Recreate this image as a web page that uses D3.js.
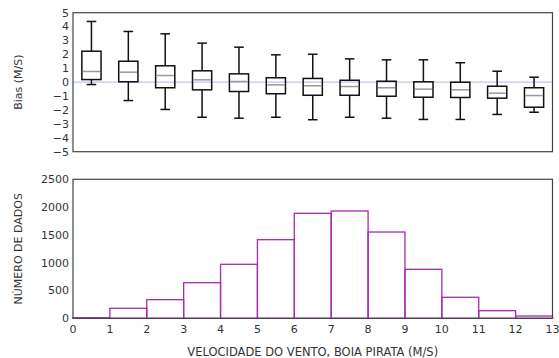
<!DOCTYPE html>
<html>
<head>
<meta charset="utf-8">
<script src="https://cdn.jsdelivr.net/npm/d3@7"></script>
<style>
  body { margin: 0; background: #fff; }
  text { font-family: "DejaVu Sans", sans-serif; fill: #333; }
</style>
</head>
<body>
<svg id="chart" width="559" height="358"></svg>
<script>
// bins of wind speed (m/s), box at each bin centre
const binStarts = [0, 1, 2, 3, 4, 5, 6, 7, 8, 9, 10, 11, 12];
const whiskerHigh = [4.37, 3.65, 3.48, 2.81, 2.52, 1.97, 2.01, 1.68, 1.61, 1.61, 1.40, 0.79, 0.36];
const q3 = [2.23, 1.51, 1.18, 0.82, 0.60, 0.32, 0.27, 0.14, 0.07, 0.03, 0.00, -0.29, -0.40];
const medians = [0.77, 0.72, 0.48, 0.17, 0.05, -0.19, -0.26, -0.31, -0.40, -0.50, -0.55, -0.79, -0.96];
const q1 = [0.19, 0.03, -0.40, -0.55, -0.67, -0.83, -0.94, -0.94, -1.01, -1.08, -1.10, -1.15, -1.80];
const whiskerLow = [-0.17, -1.32, -1.96, -2.52, -2.59, -2.52, -2.70, -2.52, -2.59, -2.68, -2.68, -2.32, -2.16];
const counts = [10, 180, 335, 640, 971, 1414, 1888, 1930, 1552, 881, 378, 137, 41];

const biasTicks = [5, 4, 3, 2, 1, 0, -1, -2, -3, -4, -5];
const countTicks = [0, 500, 1000, 1500, 2000, 2500];
const speedTicks = d3.range(0, 14);

const svg = d3.select('#chart');
const left = 73, right = 552.5;
const histColor = '#a42cae';

const x = d3.scaleLinear().domain([0, 13]).range([left, right]);
const yBias = d3.scaleLinear().domain([-5, 5]).range([151.7, 12.7]);
const yCount = d3.scaleLinear().domain([0, 2500]).range([318.3, 179.3]);

// ---- top panel: bias box plots ----
const topPanel = svg.append('g');
topPanel.append('line')
  .attr('x1', left).attr('x2', right)
  .attr('y1', yBias(0)).attr('y2', yBias(0))
  .attr('stroke', '#c4c4ec').attr('stroke-width', 1.3);

const boxW = x(0.52) - x(0);
const capW = x(0.26) - x(0);
const boxes = topPanel.selectAll('.box')
  .data(binStarts.map((b, i) => ({ c: b + 0.5, i })))
  .join('g')
  .attr('class', 'box');

boxes.append('line') // upper whisker
  .attr('x1', (d) => x(d.c)).attr('x2', (d) => x(d.c))
  .attr('y1', (d) => yBias(q3[d.i])).attr('y2', (d) => yBias(whiskerHigh[d.i]))
  .attr('stroke', '#111').attr('stroke-width', 1.5);
boxes.append('line') // lower whisker
  .attr('x1', (d) => x(d.c)).attr('x2', (d) => x(d.c))
  .attr('y1', (d) => yBias(q1[d.i])).attr('y2', (d) => yBias(whiskerLow[d.i]))
  .attr('stroke', '#111').attr('stroke-width', 1.5);
boxes.append('line') // top cap
  .attr('x1', (d) => x(d.c) - capW / 2).attr('x2', (d) => x(d.c) + capW / 2)
  .attr('y1', (d) => yBias(whiskerHigh[d.i])).attr('y2', (d) => yBias(whiskerHigh[d.i]))
  .attr('stroke', '#111').attr('stroke-width', 1.5);
boxes.append('line') // bottom cap
  .attr('x1', (d) => x(d.c) - capW / 2).attr('x2', (d) => x(d.c) + capW / 2)
  .attr('y1', (d) => yBias(whiskerLow[d.i])).attr('y2', (d) => yBias(whiskerLow[d.i]))
  .attr('stroke', '#111').attr('stroke-width', 1.5);
boxes.append('rect')
  .attr('x', (d) => x(d.c) - boxW / 2)
  .attr('width', boxW)
  .attr('y', (d) => yBias(q3[d.i]))
  .attr('height', (d) => yBias(q1[d.i]) - yBias(q3[d.i]))
  .attr('fill', 'none').attr('stroke', '#111').attr('stroke-width', 1.5);
boxes.append('line') // median
  .attr('x1', (d) => x(d.c) - boxW / 2 + 1).attr('x2', (d) => x(d.c) + boxW / 2 - 1)
  .attr('y1', (d) => yBias(medians[d.i])).attr('y2', (d) => yBias(medians[d.i]))
  .attr('stroke', '#999').attr('stroke-width', 1.5);

topPanel.append('rect')
  .attr('x', left).attr('y', yBias(5))
  .attr('width', right - left).attr('height', yBias(-5) - yBias(5))
  .attr('fill', 'none').attr('stroke', '#444').attr('stroke-width', 1.2);

topPanel.selectAll('.ytick')
  .data(biasTicks)
  .join('text')
  .attr('class', 'ytick')
  .attr('x', 69)
  .attr('y', (d) => yBias(d))
  .attr('dy', '0.35em')
  .attr('text-anchor', 'end')
  .attr('font-size', 11)
  .text((d) => (d < 0 ? '\u2212' + Math.abs(d) : d));

topPanel.append('text')
  .attr('transform', `translate(22,${(yBias(5) + yBias(-5)) / 2}) rotate(-90)`)
  .attr('text-anchor', 'middle')
  .attr('font-size', 11)
  .text('Bias (M/S)');

// ---- bottom panel: histogram ----
const bottomPanel = svg.append('g');
bottomPanel.selectAll('.bar')
  .data(binStarts.map((b, i) => ({ b, n: counts[i] })))
  .join('rect')
  .attr('class', 'bar')
  .attr('x', (d) => x(d.b))
  .attr('width', x(1) - x(0))
  .attr('y', (d) => yCount(d.n))
  .attr('height', (d) => yCount(0) - yCount(d.n))
  .attr('fill', 'none')
  .attr('stroke', histColor)
  .attr('stroke-width', 1.3);

bottomPanel.append('rect')
  .attr('x', left).attr('y', yCount(2500))
  .attr('width', right - left).attr('height', yCount(0) - yCount(2500))
  .attr('fill', 'none').attr('stroke', '#444').attr('stroke-width', 1.2);

bottomPanel.selectAll('.ctick')
  .data(countTicks)
  .join('text')
  .attr('class', 'ctick')
  .attr('x', 69)
  .attr('y', (d) => yCount(d))
  .attr('dy', '0.35em')
  .attr('text-anchor', 'end')
  .attr('font-size', 11)
  .text((d) => d);

bottomPanel.selectAll('.xtick')
  .data(speedTicks)
  .join('text')
  .attr('class', 'xtick')
  .attr('x', (d) => x(d))
  .attr('y', 333)
  .attr('text-anchor', 'middle')
  .attr('font-size', 11)
  .text((d) => d);

bottomPanel.append('text')
  .attr('transform', `translate(22,${(yCount(0) + yCount(2500)) / 2}) rotate(-90)`)
  .attr('text-anchor', 'middle')
  .attr('font-size', 11)
  .text('NÚMERO DE DADOS');

bottomPanel.append('text')
  .attr('x', (left + right) / 2)
  .attr('y', 356)
  .attr('text-anchor', 'middle')
  .attr('font-size', 11.5)
  .text('VELOCIDADE DO VENTO, BOIA PIRATA (M/S)');
</script>
</body>
</html>
